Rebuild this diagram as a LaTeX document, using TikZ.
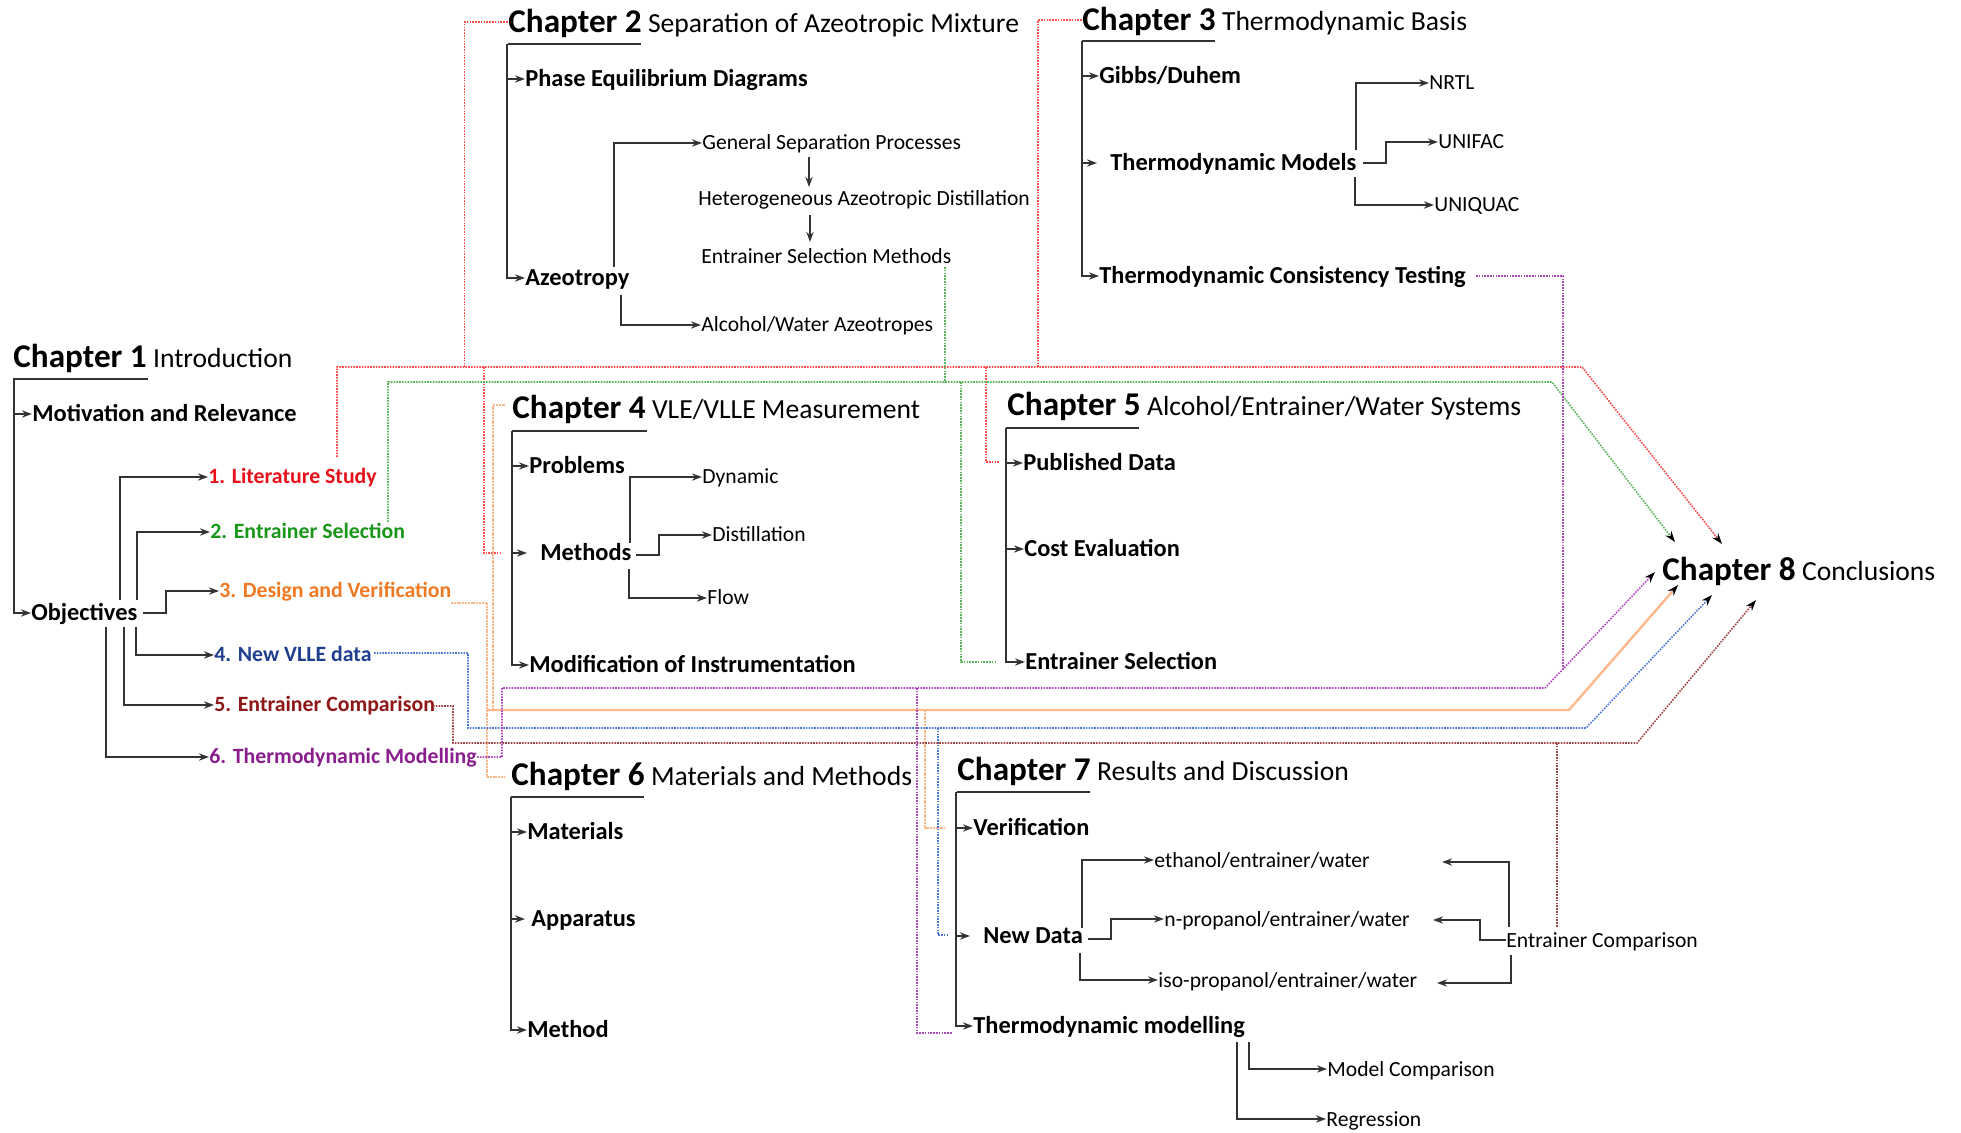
\documentclass[tikz,border=0pt]{standalone}
\usepackage{fontspec}
\setmainfont{Carlito}
\usetikzlibrary{arrows.meta}
\definecolor{lineg}{HTML}{333333}
\definecolor{tRed}{HTML}{E8101A}
\definecolor{tGreen}{HTML}{1A961A}
\definecolor{tOrange}{HTML}{F07A24}
\definecolor{tBlue}{HTML}{1F3F8E}
\definecolor{tBrown}{HTML}{8E1616}
\definecolor{tPurple}{HTML}{8A1E8E}
\definecolor{lRed}{HTML}{FF4A4A}
\definecolor{lGreen}{HTML}{5AB45A}
\definecolor{lOrange}{HTML}{FFB88A}
\definecolor{lBlue}{HTML}{4A78D8}
\definecolor{lBrown}{HTML}{A04545}
\definecolor{lPurple}{HTML}{B048C0}
\newcommand\chapno[1]{{\fontsize{16.6}{18}\selectfont\bfseries #1}}
\begin{document}
\begin{tikzpicture}[x=0.5pt,y=-0.5pt,
  lbl/.style={anchor=west,inner sep=0pt,text depth=0pt},
  hd/.style={lbl,font=\fontsize{13.8}{16}\selectfont,text height=10.7pt},
  itm/.style={lbl,font=\fontsize{12.2}{14}\selectfont\bfseries,text height=7.9pt},
  sm/.style={lbl,font=\fontsize{10.8}{13}\selectfont,text height=7pt},
  obj/.style={lbl,font=\fontsize{10.9}{13}\selectfont\bfseries,text height=7pt},
  tline/.style={draw=lineg,line width=1.1pt},
  tarrow/.style={tline,-{Stealth[length=5pt,width=3.6pt]}},
  conn/.style={line width=0.8pt,dash pattern=on 0.8pt off 0.6pt},
  oconn/.style={line width=1.2pt,draw=lOrange,dash pattern=on 1pt off 0.4pt},
  endtip/.style={-{Stealth[length=5.5pt,width=3.8pt,color=black]}},
]
\fill[white] (0,0) rectangle (1961,1133);
\useasboundingbox (0,0) rectangle (1961,1133);

% ---------------- Chapter 1
\node[hd] (ch1) at (13,357) {\chapno{Chapter 1} Introduction};
\node[itm] (c1a) at (32,414) {Motivation and Relevance};
\node[itm] (c1b) at (31,613) {Objectives};
\node[obj,text=tRed] (o1) at (208,477) {1. Literature Study};
\node[obj,text=tGreen] (o2) at (210,532) {2. Entrainer Selection};
\node[obj,text=tOrange] (o3) at (219,591) {3. Design and Verification};
\node[obj,text=tBlue] (o4) at (214,655) {4. New VLLE data};
\node[obj,text=tBrown] (o5) at (214,705) {5. Entrainer Comparison};
\node[obj,text=tPurple] (o6) at (209,757) {6. Thermodynamic Modelling};
\draw[tline] (13,379) -- (148,379);
\draw[tarrow] (14,379) |- (c1b.west);
\draw[tarrow] (14,414) -- (c1a.west);
\draw[tarrow] (120,600) |- (o1.west);
\draw[tarrow] (137,600) |- (o2.west);
\draw[tarrow] (143,613) -- (166,613) |- (o3.west);
\draw[tarrow] (136,627) |- (o4.west);
\draw[tarrow] (124,627) |- (o5.west);
\draw[tarrow] (106,627) |- (o6.west);

% ---------------- Chapter 2
\node[hd] (ch2) at (508,22) {\chapno{Chapter 2} Separation of Azeotropic Mixture};
\node[itm] (c2a) at (525,79) {Phase Equilibrium Diagrams};
\node[itm] (c2b) at (525,278) {Azeotropy};
\node[sm] (gsp) at (702,143) {General Separation Processes};
\node[sm] (had) at (698,199) {Heterogeneous Azeotropic Distillation};
\node[sm] (esm) at (701,257) {Entrainer Selection Methods};
\node[sm] (aw) at (701,325) {Alcohol/Water Azeotropes};
\draw[tline] (508,44) -- (641,44);
\draw[tarrow] (507,44) |- (c2b.west);
\draw[tarrow] (507,79) -- (c2a.west);
\draw[tarrow] (614,267) |- (gsp.west);
\draw[tarrow] (809,157) -- (809,187);
\draw[tarrow] (810,215) -- (810,242);
\draw[tarrow] (621,295) |- (aw.west);

% ---------------- Chapter 3
\node[hd] (ch3) at (1082,20) {\chapno{Chapter 3} Thermodynamic Basis};
\node[itm] (c3a) at (1099,76) {Gibbs/Duhem};
\node[itm] (c3b) at (1110,163) {Thermodynamic Models};
\node[itm] (c3c) at (1099,276) {Thermodynamic Consistency Testing};
\node[sm] (nrtl) at (1429,83) {NRTL};
\node[sm] (unifac) at (1438,142) {UNIFAC};
\node[sm] (uniquac) at (1434,205) {UNIQUAC};
\draw[tline] (1082,41) -- (1215,41);
\draw[tarrow] (1082,41) |- (c3c.west);
\draw[tarrow] (1082,76) -- (c3a.west);
\draw[tarrow] (1082,163) -- (1097,163);
\draw[tarrow] (1356,150) |- (nrtl.west);
\draw[tarrow] (1363,163) -- (1386,163) |- (unifac.west);
\draw[tarrow] (1355,177) |- (uniquac.west);

% ---------------- Chapter 4
\node[hd] (ch4) at (512,408) {\chapno{Chapter 4} VLE/VLLE Measurement};
\node[itm] (c4a) at (529,466) {Problems};
\node[itm] (c4b) at (540,553) {Methods};
\node[itm] (c4c) at (529,665) {Modification of Instrumentation};
\node[sm] (dyn) at (702,477) {Dynamic};
\node[sm] (dist) at (712,535) {Distillation};
\node[sm] (flow) at (707,598) {Flow};
\draw[tline] (512,431) -- (647,431);
\draw[tarrow] (512,431) |- (c4c.west);
\draw[tarrow] (512,466) -- (c4a.west);
\draw[tarrow] (512,553) -- (527,553);
\draw[tarrow] (630,543) |- (dyn.west);
\draw[tarrow] (636,555) -- (659,555) |- (dist.west);
\draw[tarrow] (629,569) |- (flow.west);

% ---------------- Chapter 5
\node[hd] (ch5) at (1007,405) {\chapno{Chapter 5} Alcohol/Entrainer/Water Systems};
\node[itm] (c5a) at (1023,463) {Published Data};
\node[itm] (c5b) at (1024,549) {Cost Evaluation};
\node[itm] (c5c) at (1025,662) {Entrainer Selection};
\draw[tline] (1006,428) -- (1139,428);
\draw[tarrow] (1006,428) |- (c5c.west);
\draw[tarrow] (1006,463) -- (c5a.west);
\draw[tarrow] (1006,549) -- (c5b.west);

% ---------------- Chapter 6
\node[hd] (ch6) at (511,775) {\chapno{Chapter 6} Materials and Methods};
\node[itm] (c6a) at (527,832) {Materials};
\node[itm] (c6b) at (531,919) {Apparatus};
\node[itm] (c6c) at (527,1030) {Method};
\draw[tline] (511,797) -- (644,797);
\draw[tarrow] (511,797) |- (c6c.west);
\draw[tarrow] (511,832) -- (c6a.west);
\draw[tarrow] (511,919) -- (525,919);

% ---------------- Chapter 7
\node[hd] (ch7) at (957,770) {\chapno{Chapter 7} Results and Discussion};
\node[itm] (c7a) at (973,828) {Verification};
\node[itm] (c7b) at (983,936) {New Data};
\node[itm] (c7c) at (973,1026) {Thermodynamic modelling};
\node[sm] (eth) at (1154,860) {ethanol/entrainer/water};
\node[sm] (npr) at (1164,919) {n-propanol/entrainer/water};
\node[sm] (ipr) at (1158,980) {iso-propanol/entrainer/water};
\node[sm] (ec) at (1506,940) {Entrainer Comparison};
\node[sm] (mc) at (1327,1069) {Model Comparison};
\node[sm] (reg) at (1326,1119) {Regression};
\coordinate (ethin) at (1442,862);
\coordinate (nprin) at (1433,920);
\coordinate (iprin) at (1437,983);
\draw[tline] (957,792) -- (1090,792);
\draw[tarrow] (956,792) |- (c7c.west);
\draw[tarrow] (956,828) -- (c7a.west);
\draw[tarrow] (956,936) -- (970,936);
\draw[tarrow] (1082,928) |- (eth.west);
\draw[tarrow] (1088,939) -- (1111,939) |- (npr.west);
\draw[tarrow] (1080,953) |- (ipr.west);
\draw[tarrow] (1249,1042) |- (mc.west);
\draw[tarrow] (1237,1042) |- (reg.west);
\draw[tarrow] (1509,927) |- (ethin);
\draw[tarrow] (ec.west) -- (1480,940) |- (nprin);
\draw[tarrow] (1511,955) |- (iprin);

% ---------------- Chapter 8
\node[hd] (ch8) at (1662,570) {\chapno{Chapter 8} Conclusions};

% ---------------- coloured connectors
% red: literature study
\draw[conn,draw=lRed,endtip] (337,457) -- (337,367) -- (1582,367) -- (1722,544);
\draw[conn,draw=lRed] (464.5,367) |- (ch2.west);
\draw[conn,draw=lRed] (1038,367) |- (ch3.west);
\draw[conn,draw=lRed] (484,367) |- (502,553);
\draw[conn,draw=lRed] (986,367) |- (1000,462);
% green: entrainer selection
\draw[conn,draw=lGreen,endtip] (388,522) |- (1552,382) -- (1675,542);
\draw[conn,draw=lGreen] (945,267) -- (945,382);
\draw[conn,draw=lGreen] (961,382) |- (995,662);
% orange: design and verification
\draw[oconn] (451,603) -- (487,603) |- (505,777);
\draw[oconn,solid,endtip] (487,710) -- (1569,710) -- (1678,585);
\draw[oconn] (493,710) |- (505,405);
\draw[oconn] (925,710) |- (945,828);
% blue: new VLLE data
\draw[conn,draw=lBlue,endtip] (374,653) -- (468,653) |- (1586,728) -- (1712,595);
\draw[conn,draw=lBlue] (938,728) |- (948,935);
% brown: entrainer comparison
\draw[conn,draw=lBrown,endtip] (433,706) -- (453,706) |- (1637,743) -- (1756,600);
\draw[conn,draw=lBrown] (1557,743) -- (1557,927);
% purple: thermodynamic modelling
\draw[conn,draw=lPurple,endtip] (477,757) -- (502,757) |- (1545,688) -- (1655,572);
\draw[conn,draw=lPurple] (917,688) |- (952,1033);
\draw[conn,draw=lPurple] (1476,276) -| (1563,668);
\end{tikzpicture}
\end{document}
